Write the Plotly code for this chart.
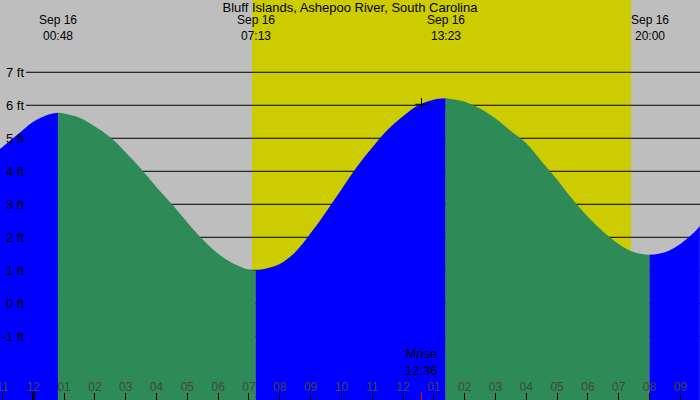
import plotly.graph_objects as go

TITLE = "Bluff Islands, Ashepoo River, South Carolina"

# tide height readings (ft) taken off the reference curve
TIDE_TIMES = [
    "2024-09-15 22:55", "2024-09-15 23:30", "2024-09-16 00:00", "2024-09-16 00:30",
    "2024-09-16 00:48",
    "2024-09-16 01:00", "2024-09-16 01:30", "2024-09-16 02:00", "2024-09-16 02:30",
    "2024-09-16 03:00", "2024-09-16 03:30", "2024-09-16 04:00", "2024-09-16 04:30",
    "2024-09-16 05:00", "2024-09-16 05:30", "2024-09-16 06:00", "2024-09-16 06:30",
    "2024-09-16 07:00", "2024-09-16 07:13",
    "2024-09-16 07:30", "2024-09-16 08:00", "2024-09-16 08:30", "2024-09-16 09:00",
    "2024-09-16 09:30", "2024-09-16 10:00", "2024-09-16 10:30", "2024-09-16 11:00",
    "2024-09-16 11:30", "2024-09-16 12:00", "2024-09-16 12:30", "2024-09-16 13:00",
    "2024-09-16 13:23",
    "2024-09-16 13:30", "2024-09-16 14:00", "2024-09-16 14:30", "2024-09-16 15:00",
    "2024-09-16 15:30", "2024-09-16 16:00", "2024-09-16 16:30", "2024-09-16 17:00",
    "2024-09-16 17:30", "2024-09-16 18:00", "2024-09-16 18:30", "2024-09-16 19:00",
    "2024-09-16 19:30", "2024-09-16 20:00",
    "2024-09-16 20:30", "2024-09-16 21:00", "2024-09-16 21:30", "2024-09-16 21:38",
]
TIDE_FT = [
    4.67, 5.12, 5.50, 5.72,
    5.77,
    5.75, 5.62, 5.36, 5.03,
    4.57, 4.07, 3.52, 3.00,
    2.45, 1.93, 1.50, 1.20,
    1.02, 1.00,
    1.04, 1.19, 1.55, 2.12,
    2.77, 3.45, 4.13, 4.72,
    5.26, 5.67, 6.00, 6.17,
    6.21,
    6.20, 6.11, 5.90, 5.60,
    5.22, 4.85, 4.30, 3.75,
    3.15, 2.62, 2.17, 1.80,
    1.55, 1.47,
    1.55, 1.80, 2.20, 2.34,
]

# high / low tide times shown at the top
EXTREME_TIMES = ["2024-09-16 00:48", "2024-09-16 07:13", "2024-09-16 13:23", "2024-09-16 20:00"]
EXTREME_DATES = ["Sep 16", "Sep 16", "Sep 16", "Sep 16"]
EXTREME_CLOCK = ["00:48", "07:13", "13:23", "20:00"]

SUNRISE = "2024-09-16 07:06"
SUNSET = "2024-09-16 19:24"
MOONRISE = "2024-09-16 12:36"
MOONRISE_LABEL = "12:36"
MOONRISE_FT = 6.03
MIDNIGHT = "2024-09-16 00:00"

FT_TICKS = [-1, 0, 1, 2, 3, 4, 5, 6, 7]
X_RANGE = ["2024-09-15 22:55:09", "2024-09-16 21:38:21"]
Y_RANGE = [-2.93, 9.19]

NIGHT = "#bebebe"
DAY = "#cccc00"
FLOOD = "#0000ff"
EBB = "#2e8b57"
FONT = "Liberation Sans"

fig = go.Figure()

# split the curve at each high/low so rising and falling get their own colour
cuts = [0] + [i for i, t in enumerate(TIDE_TIMES) if t in EXTREME_TIMES] + [len(TIDE_TIMES) - 1]
for a, b in zip(cuts[:-1], cuts[1:]):
    xs = TIDE_TIMES[a:b + 1]
    ys = TIDE_FT[a:b + 1]
    color = FLOOD if ys[-1] > ys[0] else EBB
    fig.add_trace(go.Scatter(x=[xs[0], xs[-1]], y=[Y_RANGE[0], Y_RANGE[0]], mode="lines",
                             line=dict(width=0), hoverinfo="skip", showlegend=False))
    fig.add_trace(go.Scatter(x=xs, y=ys, mode="lines", fill="tonexty", fillcolor=color,
                             line=dict(width=0, shape="spline", color=color),
                             showlegend=False))

fig.add_trace(go.Scatter(x=[MOONRISE], y=[MOONRISE_FT], mode="markers", showlegend=False,
                         marker=dict(symbol="cross-thin", size=9,
                                     line=dict(width=1, color="black"))))

shapes = [dict(type="rect", xref="x", yref="paper", x0=SUNRISE, x1=SUNSET, y0=0, y1=1,
               fillcolor=DAY, line=dict(width=0), layer="below")]
for v in FT_TICKS:
    shapes.append(dict(type="line", xref="paper", yref="y", x0=26 / 700, x1=1, y0=v, y1=v,
                       line=dict(color="black", width=1), layer="between"))
shapes.append(dict(type="line", xref="x", yref="paper", x0=MIDNIGHT, x1=MIDNIGHT,
                   y0=0, y1=0.02, line=dict(color="black", width=2.5)))
shapes.append(dict(type="line", xref="x", yref="paper", x0=MOONRISE, x1=MOONRISE,
                   y0=0, y1=0.02, line=dict(color="red", width=1)))

annotations = []
for t, d, c in zip(EXTREME_TIMES, EXTREME_DATES, EXTREME_CLOCK):
    annotations.append(dict(x=t, y=1 - 28 / 400, xref="x", yref="paper", text=f"{d}<br>{c}",
                            showarrow=False, yanchor="middle", font=dict(size=12)))
annotations.append(dict(x=MOONRISE, y=1 - 362 / 400, xref="x", yref="paper",
                        text=f"Mrise<br>{MOONRISE_LABEL}", showarrow=False, yanchor="middle"))

fig.update_layout(
    width=700, height=400,
    margin=dict(l=0, r=0, t=0, b=0, pad=0),
    paper_bgcolor=NIGHT, plot_bgcolor=NIGHT,
    font=dict(family=FONT, size=13, color="black"),
    title=dict(text=TITLE, x=0.5, xanchor="center", y=1 - 7 / 400, yanchor="middle",
               yref="container", font=dict(size=13)),
    shapes=shapes, annotations=annotations,
    xaxis=dict(type="date", range=X_RANGE, tick0=MIDNIGHT, dtick=3600000, tickformat="%I",
               anchor="free", position=8 / 400,
               ticks="outside", ticklen=8, tickcolor="black", tickwidth=1,
               ticklabelposition="inside", ticklabelstandoff=-4,
               ticklabeloverflow="allow", automargin=False, tickfont=dict(size=12),
               showgrid=False, zeroline=False, showline=False, fixedrange=True),
    yaxis=dict(range=Y_RANGE, tickvals=FT_TICKS, ticktext=[f"{v} ft" for v in FT_TICKS],
               anchor="free", position=24 / 700, side="left", ticks="", automargin=False,
               showgrid=False, zeroline=False, showline=False, fixedrange=True),
)

# drop the browser's default page margin so the chart sits at the window corner
fig.write_html("out.html", config={"displayModeBar": False},
               post_script="document.body.style.margin = '0';")
